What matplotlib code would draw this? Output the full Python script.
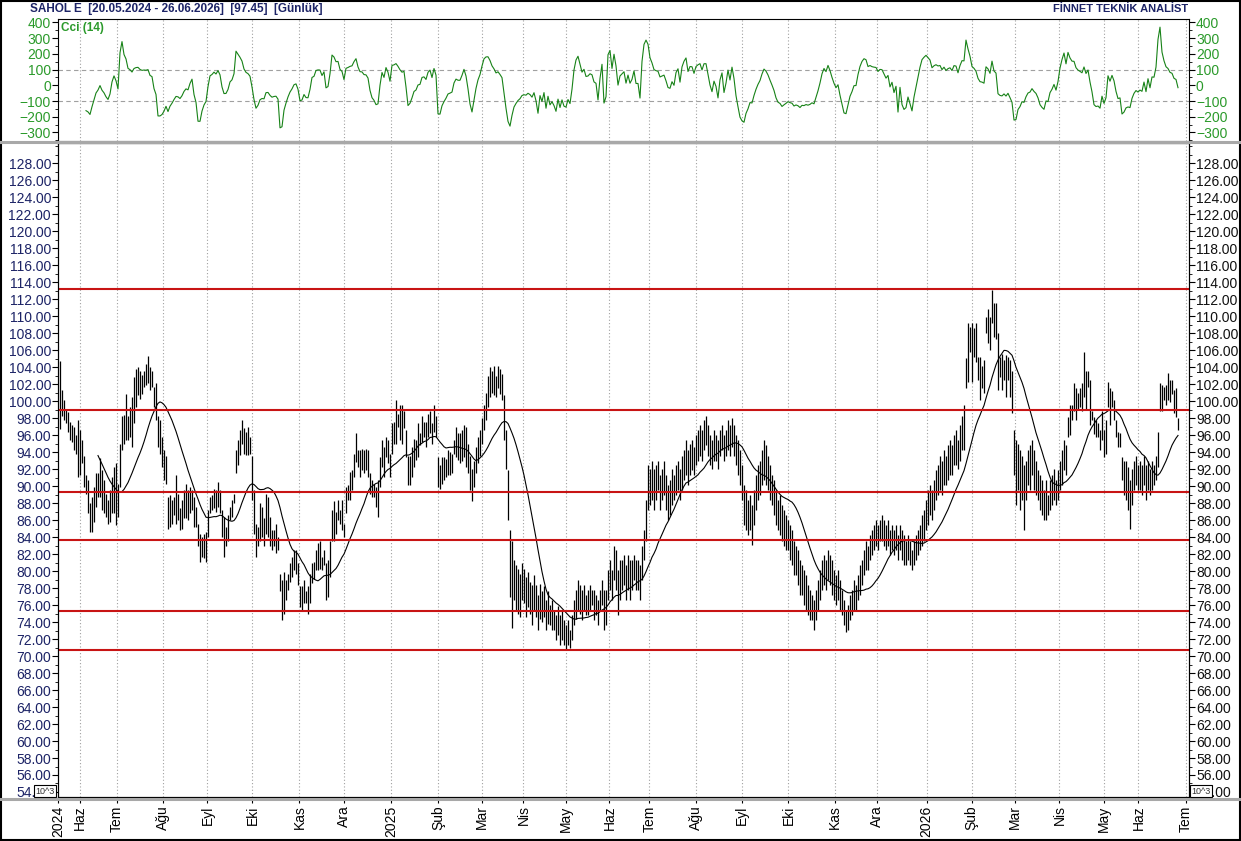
import numpy as np
import pandas as pd
import matplotlib
matplotlib.use("Agg")
import matplotlib.pyplot as plt
from matplotlib.lines import Line2D
from matplotlib.patches import Rectangle
from matplotlib.ticker import FixedLocator, MultipleLocator, FormatStrFormatter

plt.rcParams['font.family'] = ['Liberation Sans', 'DejaVu Sans']

# daily high / low, SAHOL 20.05.2024 - 26.06.2026
high = [
    104.7, 101.3, 100.1, 99.1, 98.7, 97.6, 97.2, 97.0, 96.0, 97.8,
    96.6, 95.4, 93.5, 91.3, 90.7, 88.0, 88.7, 89.9, 91.5, 91.5,
    93.3, 91.9, 90.7, 89.1, 88.4, 89.5, 91.1, 92.3, 92.7, 90.3,
    95.0, 98.2, 98.4, 100.9, 98.2, 99.3, 100.5, 102.9, 103.8, 104.0,
    103.5, 103.1, 103.6, 104.4, 105.3, 104.0, 103.5, 101.7, 102.1, 98.2,
    97.8, 95.8, 94.2, 93.5, 88.7, 88.9, 88.4, 88.7, 91.3, 89.1,
    87.4, 88.4, 89.5, 90.3, 89.5, 89.9, 89.5, 88.7, 87.6, 85.6,
    84.4, 84.0, 84.4, 84.6, 87.2, 88.7, 88.9, 89.7, 89.5, 90.5,
    89.5, 87.2, 86.4, 85.2, 86.6, 87.6, 88.4, 89.1, 94.2, 95.4,
    96.6, 97.8, 96.8, 96.4, 97.0, 95.8, 93.5, 89.5, 85.6, 85.2,
    88.0, 87.6, 86.2, 89.1, 88.7, 86.4, 84.8, 84.8, 85.6, 84.0,
    79.7, 78.9, 79.9, 78.9, 79.7, 80.9, 81.7, 82.5, 82.5, 80.9,
    78.2, 78.2, 78.9, 77.6, 78.2, 79.7, 80.9, 81.1, 82.5, 83.3,
    83.5, 81.7, 82.5, 80.9, 81.3, 83.6, 87.2, 88.2, 87.0, 88.4,
    87.2, 88.4, 85.6, 89.9, 90.1, 91.7, 91.9, 93.8, 96.2, 94.2,
    94.2, 94.4, 94.2, 94.4, 94.2, 91.5, 90.7, 90.3, 89.9, 90.7,
    93.4, 95.4, 94.6, 95.8, 95.4, 93.8, 97.4, 97.6, 100.1, 98.5,
    99.5, 99.5, 98.9, 96.6, 93.6, 93.6, 94.6, 95.6, 95.4, 97.4,
    96.2, 98.2, 97.6, 97.6, 98.5, 98.9, 97.4, 99.5, 98.3, 93.4,
    92.5, 93.4, 93.4, 93.2, 94.2, 94.0, 93.8, 95.4, 97.0, 96.2,
    96.2, 96.6, 97.2, 97.0, 95.0, 93.5, 92.0, 93.0, 94.6, 95.8,
    96.6, 98.0, 99.5, 101.0, 103.0, 104.0, 103.6, 104.2, 103.0, 104.2,
    103.8, 103.2, 100.7, 96.6, 91.9, 84.8, 83.6, 81.3, 80.7, 80.3,
    79.7, 81.0, 80.3, 79.3, 79.9, 78.7, 78.4, 79.5, 78.4, 77.2,
    78.5, 77.6, 78.2, 76.6, 77.6, 76.0, 76.6, 75.4, 74.8, 75.9,
    74.8, 75.4, 74.2, 73.6, 74.2, 73.1, 74.8, 76.6, 77.8, 78.9,
    78.4, 77.8, 78.4, 77.2, 77.8, 78.4, 77.8, 77.8, 77.2, 76.6,
    77.8, 78.9, 77.8, 77.8, 80.1, 81.3, 80.1, 83.0, 82.5, 80.1,
    81.3, 81.3, 81.9, 80.7, 81.9, 81.3, 81.3, 81.9, 81.3, 81.3,
    80.7, 83.0, 84.8, 88.4, 92.5, 92.0, 93.0, 92.0, 92.5, 93.0,
    91.3, 92.0, 93.0, 91.3, 90.1, 90.7, 92.0, 91.3, 92.5, 93.0,
    92.0, 93.6, 94.2, 95.4, 94.2, 95.0, 95.4, 94.6, 96.0, 96.6,
    97.2, 96.6, 97.8, 98.3, 97.2, 96.0, 95.4, 96.6, 96.0, 95.4,
    96.6, 97.2, 96.0, 96.6, 97.8, 97.2, 98.0, 97.2, 96.0, 95.4,
    94.2, 92.5, 90.1, 89.5, 88.4, 89.0, 87.8, 89.5, 91.3, 92.5,
    93.0, 94.2, 95.4, 94.8, 93.6, 92.5, 91.3, 90.7, 89.5, 88.4,
    89.0, 87.8, 87.2, 86.6, 86.0, 85.4, 84.8, 83.6, 83.0, 82.5,
    81.3, 80.7, 80.1, 79.5, 78.4, 77.8, 77.2, 76.6, 77.8, 79.0,
    80.1, 81.3, 81.9, 81.3, 82.5, 81.9, 81.3, 80.1, 79.5, 80.1,
    78.9, 77.8, 76.6, 75.4, 76.0, 77.2, 77.8, 78.9, 78.4, 79.5,
    80.7, 81.3, 82.5, 83.6, 83.0, 84.2, 84.8, 85.4, 86.0, 85.4,
    86.0, 86.6, 86.0, 85.4, 86.0, 84.8, 85.4, 84.8, 85.4, 84.2,
    85.4, 84.8, 84.2, 83.6, 84.2, 83.6, 82.5, 83.6, 84.2, 84.8,
    85.4, 86.6, 87.2, 88.4, 89.5, 90.1, 89.5, 90.7, 91.9, 92.5,
    93.6, 93.0, 94.2, 93.6, 94.8, 95.4, 94.8, 96.0, 96.6, 95.4,
    97.2, 98.3, 99.5, 105.1, 109.2, 108.7, 109.2, 108.6, 109.2, 105.2,
    105.2, 104.2, 104.8, 109.9, 110.9, 109.9, 113.1, 111.5, 111.5, 108.0,
    105.2, 105.6, 104.8, 105.4, 105.2, 104.8, 103.6, 96.6, 95.4, 95.0,
    94.2, 93.6, 92.5, 93.0, 94.2, 94.8, 95.4, 94.2, 93.0, 91.9,
    91.3, 90.7, 89.5, 90.7, 89.0, 90.7, 91.3, 92.0, 90.7, 91.9,
    93.0, 94.2, 95.4, 94.8, 98.1, 99.5, 99.5, 102.1, 101.6, 101.0,
    101.5, 102.1, 105.8, 103.6, 103.6, 102.5, 98.9, 98.1, 97.8, 97.4,
    96.6, 98.9, 96.6, 97.8, 102.2, 101.6, 101.2, 100.1, 97.8, 96.4,
    96.2, 93.4, 93.0, 93.0, 92.3, 90.7, 92.0, 93.0, 93.6, 92.5,
    93.0, 92.5, 93.6, 92.5, 93.0, 92.0, 93.0, 92.5, 93.6, 96.4,
    102.1, 101.9, 101.7, 101.9, 103.3, 102.5, 102.5, 101.3, 101.6, 98.0,
]
low = [
    96.7, 98.2, 97.8, 97.4, 96.4, 95.4, 95.2, 94.2, 93.8, 91.1,
    91.3, 92.7, 89.9, 89.1, 86.8, 84.6, 84.6, 85.8, 87.6, 88.7,
    88.7, 87.2, 86.8, 86.4, 85.6, 85.8, 86.8, 86.8, 85.4, 86.4,
    89.9, 94.2, 95.0, 95.4, 95.4, 95.8, 94.6, 97.4, 99.3, 100.7,
    100.3, 100.9, 101.7, 101.9, 102.1, 101.3, 101.7, 99.3, 97.8, 94.6,
    93.8, 92.3, 90.7, 90.3, 85.0, 85.2, 85.6, 86.6, 85.6, 86.0,
    84.8, 85.0, 86.2, 86.2, 86.0, 86.8, 87.2, 85.2, 85.2, 82.9,
    81.1, 81.7, 81.5, 81.1, 84.0, 86.8, 87.2, 87.4, 87.0, 87.6,
    86.8, 84.0, 81.7, 82.9, 83.6, 86.0, 86.4, 88.0, 91.5, 92.5,
    93.7, 95.0, 93.8, 93.7, 93.7, 93.8, 88.4, 84.4, 81.7, 82.9,
    83.6, 84.0, 82.9, 84.4, 84.0, 82.9, 82.5, 82.9, 82.1, 82.5,
    77.6, 74.2, 75.0, 76.6, 77.8, 78.7, 79.3, 80.1, 79.7, 78.4,
    75.8, 75.4, 76.2, 76.2, 75.0, 76.2, 78.6, 79.1, 80.1, 80.1,
    80.3, 80.1, 80.7, 76.6, 77.0, 79.3, 83.6, 83.6, 84.4, 86.0,
    85.6, 84.8, 84.0, 86.8, 88.4, 88.4, 89.5, 91.1, 92.9, 92.3,
    91.1, 91.9, 91.5, 91.9, 91.1, 89.1, 88.7, 88.7, 87.6, 86.4,
    89.9, 92.3, 91.1, 93.4, 92.7, 91.1, 93.8, 95.0, 95.0, 97.0,
    95.4, 95.0, 96.8, 93.4, 90.1, 90.1, 91.1, 92.3, 93.1, 93.4,
    94.8, 95.2, 95.8, 94.6, 95.8, 96.2, 95.0, 96.4, 95.8, 89.9,
    89.7, 90.3, 90.7, 91.1, 91.3, 91.3, 91.5, 93.8, 93.4, 93.1,
    92.7, 93.0, 93.4, 92.3, 91.5, 89.5, 88.2, 89.9, 91.5, 92.7,
    93.6, 95.0, 96.6, 97.8, 99.3, 100.5, 101.0, 100.7, 100.5, 101.5,
    100.9, 100.1, 95.4, 92.0, 86.0, 77.0, 73.3, 76.6, 75.4, 75.0,
    74.6, 76.6, 76.2, 74.6, 75.8, 75.0, 73.6, 75.4, 74.6, 73.1,
    74.4, 74.0, 74.6, 73.1, 73.8, 73.6, 73.1, 73.1, 71.9, 72.5,
    71.3, 71.9, 71.3, 70.7, 71.3, 70.9, 71.9, 73.6, 74.4, 75.4,
    75.0, 74.2, 75.4, 74.8, 74.8, 75.4, 76.0, 74.2, 74.8, 73.6,
    75.4, 76.0, 73.1, 73.6, 76.6, 77.8, 76.6, 78.9, 77.8, 74.8,
    76.6, 77.8, 78.4, 76.6, 77.8, 76.6, 77.8, 78.9, 77.8, 77.8,
    76.6, 78.9, 81.3, 83.6, 87.2, 87.8, 88.4, 87.2, 88.4, 89.5,
    87.2, 88.4, 89.0, 87.2, 86.0, 86.6, 87.8, 88.4, 89.0, 89.5,
    88.4, 89.5, 90.7, 91.3, 90.1, 91.3, 91.9, 91.3, 92.5, 93.0,
    93.6, 93.0, 94.2, 94.8, 93.6, 92.5, 92.0, 93.0, 93.0, 92.0,
    93.6, 94.2, 93.0, 93.6, 94.2, 93.6, 94.6, 93.6, 92.5, 91.3,
    90.1, 88.4, 85.4, 84.8, 84.2, 84.8, 83.1, 85.4, 87.2, 88.4,
    89.0, 90.1, 90.7, 90.1, 89.5, 88.4, 87.8, 86.6, 85.4, 84.8,
    84.2, 83.6, 83.0, 82.5, 82.5, 81.3, 80.7, 79.5, 79.5, 78.4,
    77.2, 77.2, 76.0, 75.4, 74.8, 74.2, 74.2, 73.1, 74.2, 75.4,
    76.6, 77.8, 78.4, 77.8, 78.9, 78.4, 77.2, 76.6, 76.0, 76.6,
    75.4, 74.8, 73.6, 72.8, 73.1, 74.2, 74.8, 75.4, 75.4, 76.6,
    77.2, 78.4, 79.5, 80.1, 80.1, 81.3, 81.9, 82.5, 83.0, 82.5,
    83.6, 83.6, 83.0, 82.5, 83.0, 81.9, 82.5, 81.9, 82.5, 81.3,
    82.5, 81.3, 80.7, 80.7, 81.3, 80.7, 80.1, 80.7, 81.3, 81.9,
    82.5, 83.0, 83.6, 84.8, 85.4, 86.6, 86.0, 87.2, 88.4, 89.0,
    89.5, 89.0, 90.1, 90.1, 90.7, 91.3, 91.3, 92.5, 92.5, 92.0,
    93.0, 94.2, 94.2, 101.6, 102.2, 105.8, 102.2, 105.2, 104.6, 102.5,
    100.1, 101.6, 101.0, 108.0, 106.8, 106.0, 109.2, 107.5, 107.3, 101.3,
    102.8, 101.3, 102.5, 100.5, 102.5, 100.5, 98.6, 91.3, 87.8, 89.5,
    87.2, 88.4, 84.8, 88.4, 90.1, 89.5, 91.3, 89.5, 89.0, 88.4,
    87.2, 86.6, 86.0, 86.0, 86.6, 87.2, 87.8, 88.4, 87.8, 88.4,
    89.5, 90.1, 91.9, 91.3, 95.8, 96.0, 97.8, 98.9, 97.8, 99.0,
    99.3, 98.9, 100.5, 99.0, 101.7, 97.2, 97.8, 96.1, 95.8, 95.8,
    94.2, 95.4, 93.4, 93.8, 99.3, 97.2, 99.3, 97.8, 95.8, 94.6,
    94.6, 90.7, 89.0, 88.4, 87.2, 85.0, 87.8, 89.5, 90.1, 89.5,
    89.5, 89.0, 90.1, 88.4, 89.5, 89.0, 89.5, 90.1, 90.7, 92.2,
    98.9, 98.9, 100.1, 99.6, 100.1, 99.9, 100.9, 98.6, 98.1, 96.6,
]

# bar number where each month starts, and its label
month_bar = [-0.9, 10, 28.3, 51.7, 73.7, 96.2, 119.7, 142.2, 165.5, 189.2,
             210.8, 231.7, 252.8, 274.7, 294.7, 318, 340.8, 364.2, 387.5,
             408.3, 433.3, 455.8, 477.5, 499.7, 522, 539.2, 562.8]
month_lbl = ['2024', 'Haz', 'Tem', 'Ağu', 'Eyl', 'Eki', 'Kas', 'Ara', '2025',
             'Şub', 'Mar', 'Nis', 'May', 'Haz', 'Tem', 'Ağu', 'Eyl', 'Eki',
             'Kas', 'Ara', '2026', 'Şub', 'Mar', 'Nis', 'May', 'Haz', 'Tem']

# support / resistance lines
levels = [113.25, 98.95, 89.3, 83.68, 75.33, 70.72]

n = min(len(high), len(low))
hi = pd.Series(high[:n])
lo = pd.Series(low[:n])
x = np.arange(n)

# indicators
mid = (hi + lo) / 2
ma = mid.rolling(20).mean()
tp = mid
sma = tp.rolling(14).mean()
mad = tp.rolling(14).apply(lambda w: np.mean(np.abs(w - w.mean())), raw=True)
cci = (tp - sma) / (0.015 * mad)

navy = '#1c2366'
green = '#2b9a2b'
grid_c = '#a0a0a0'

W, H = 1241.0, 841.0


def rect(x0, y0, x1, y1):
    return [x0 / W, 1 - y1 / H, (x1 - x0) / W, (y1 - y0) / H]


fig = plt.figure(figsize=(12.41, 8.41), dpi=100)
ax_c = fig.add_axes(rect(58, 19, 1189, 141))
ax = fig.add_axes(rect(58, 143, 1189, 797))

# ---- CCI panel
for m in month_bar:
    ax_c.axvline(m, color=grid_c, lw=0.8, ls=(0, (1, 2)), zorder=0)
for h in (100, -100):
    ax_c.axhline(h, color=grid_c, lw=0.8, ls=(0, (4, 3)), zorder=0)
ax_c.plot(x, cci, color='#178217', lw=0.8)
ax_c.set_xlim(-1, 564.5)
ax_c.set_ylim(-354, 421)
ax_c.yaxis.set_major_locator(FixedLocator(np.arange(-300, 401, 100)))
ax_c.yaxis.set_minor_locator(MultipleLocator(50))
ax_c.tick_params(axis='y', which='both', left=True, right=True, labelleft=True,
                 labelright=True, labelcolor=green, labelsize=10, direction='out',
                 pad=1)
ax_c.tick_params(axis='y', which='major', length=4)
ax_c.tick_params(axis='y', which='minor', length=2)
ax_c.set_xticks(month_bar)
ax_c.tick_params(axis='x', labelbottom=False, length=3)
ax_c.text(0.003, 0.975, 'Cci (14)', transform=ax_c.transAxes, color=green,
          fontsize=8.5, fontweight='bold', va='top', ha='left')

# ---- price panel
for m in month_bar:
    ax.axvline(m, color=grid_c, lw=0.8, ls=(0, (1, 2)), zorder=0)
ax.vlines(x, lo, hi, color='black', lw=0.9, zorder=3)
ax.plot(x, ma, color='black', lw=0.8, zorder=4)
for lv in levels:
    ax.axhline(lv, color='#c81414', lw=1.5, zorder=5)

ylo, yhi = 53.41, 130.39
ax.set_xlim(-1, 564.5)
ax.set_ylim(ylo, yhi)
ax.yaxis.set_major_locator(FixedLocator(np.arange(54, 130, 2)))
ax.yaxis.set_minor_locator(MultipleLocator(1))
ax.yaxis.set_major_formatter(FormatStrFormatter('%.2f'))
ax.tick_params(axis='y', which='both', left=True, right=True, labelleft=True,
               labelright=False, direction='out', labelsize=10, labelcolor=navy,
               pad=1)
ax.tick_params(axis='y', which='major', length=4)
ax.tick_params(axis='y', which='minor', length=2)
ax.set_xticks(month_bar)
ax.set_xticklabels(month_lbl, rotation=90, fontsize=10)
ax.tick_params(axis='x', direction='out', length=4, pad=2)

axr = ax.twinx()
axr.set_ylim(ylo, yhi)
axr.yaxis.set_major_locator(FixedLocator(np.arange(54, 130, 2)))
axr.yaxis.set_minor_locator(MultipleLocator(1))
axr.yaxis.set_major_formatter(FormatStrFormatter('%.2f'))
axr.tick_params(axis='y', which='both', direction='out', labelsize=10,
                labelcolor='#111111', pad=1)
axr.tick_params(axis='y', which='major', length=4)
axr.tick_params(axis='y', which='minor', length=2)

# header texts
fig.text(30 / W, 1 - 9 / H, 'SAHOL E  [20.05.2024 - 26.06.2026]  [97.45]  [Günlük]',
         fontsize=8.5, fontweight='bold', color=navy, ha='left', va='center')
fig.text(1188 / W, 1 - 9 / H, 'FİNNET TEKNİK ANALİST', fontsize=8,
         fontweight='bold', color=navy, ha='right', va='center')

# separators and frame
for yy in (142, 798.5):
    fig.add_artist(Line2D([0, 1], [1 - yy / H] * 2, color='#a8a8a8', lw=2.2,
                          transform=fig.transFigure))
fig.add_artist(Rectangle((0.0006, 0.0008), 0.9988, 0.9984, transform=fig.transFigure,
                         fill=False, ec='black', lw=1.5))

for xx in (45, 1201):
    fig.text(xx / W, 1 - 791 / H, '10^3', fontsize=6.5, color='#333333',
             ha='center', va='center', zorder=10,
             bbox=dict(boxstyle='square,pad=0.2', fc='white', ec='black', lw=0.8))

fig.savefig('out.png', dpi=100)
